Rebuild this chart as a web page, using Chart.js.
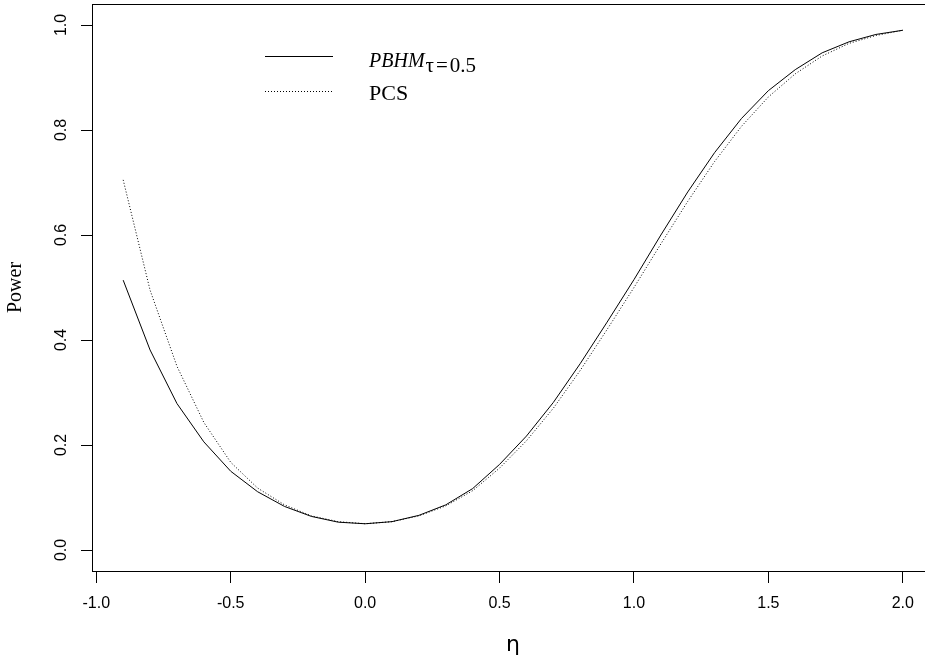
<!DOCTYPE html>
<html>
<head>
<meta charset="utf-8">
<script src="https://cdn.jsdelivr.net/npm/chart.js@4/dist/chart.umd.min.js"></script>
<style>
  html, body { margin: 0; padding: 0; background: #fff; overflow: hidden; }
  #wrap { width: 945px; height: 662px; }
</style>
</head>
<body>
<div id="wrap"><canvas id="powerChart" width="945" height="662"></canvas></div>
<script>
// effect size grid and power curves
const eta = [-0.9, -0.8, -0.7, -0.6, -0.5, -0.4, -0.3, -0.2, -0.1, 0.0,
             0.1, 0.2, 0.3, 0.4, 0.5, 0.6, 0.7, 0.8, 0.9, 1.0,
             1.1, 1.2, 1.3, 1.4, 1.5, 1.6, 1.7, 1.8, 1.9, 2.0];
const powerPBHM = [0.514, 0.381, 0.279, 0.206, 0.150, 0.111, 0.083, 0.064, 0.053, 0.050,
                   0.054, 0.066, 0.086, 0.117, 0.163, 0.217, 0.281, 0.355, 0.434, 0.515,
                   0.600, 0.682, 0.757, 0.822, 0.875, 0.915, 0.947, 0.968, 0.982, 0.990];
const powerPCS = [0.705, 0.495, 0.350, 0.243, 0.167, 0.118, 0.086, 0.065, 0.054, 0.050,
                  0.054, 0.065, 0.084, 0.113, 0.156, 0.208, 0.270, 0.342, 0.420, 0.500,
                  0.583, 0.664, 0.740, 0.807, 0.863, 0.907, 0.941, 0.965, 0.980, 0.990];
const xTicks = [-1.0, -0.5, 0.0, 0.5, 1.0, 1.5, 2.0];
const yTicks = [0.0, 0.2, 0.4, 0.6, 0.8, 1.0];

const toPoints = ys => eta.map((x, i) => ({ x: x, y: ys[i] }));

// box around the plot region, rotated y labels, legend
const rPlotExtras = {
  id: "rPlotExtras",
  afterDraw(chart) {
    const ctx = chart.ctx;
    const a = chart.chartArea;
    const ys = chart.scales.y;
    ctx.save();
    ctx.strokeStyle = "#000";
    ctx.lineWidth = 1;
    ctx.strokeRect(Math.round(a.left) + 0.5, Math.round(a.top) + 0.5,
                   Math.round(a.right - a.left), Math.round(a.bottom - a.top));

    ctx.fillStyle = "#000";
    ctx.font = "16px 'Liberation Sans', Arial, sans-serif";
    ctx.textAlign = "center";
    ctx.textBaseline = "middle";
    yTicks.forEach(v => {
      ctx.save();
      ctx.translate(62, ys.getPixelForValue(v));
      ctx.rotate(-Math.PI / 2);
      ctx.fillText(v.toFixed(1), 0, 0);
      ctx.restore();
    });

    // legend
    ctx.beginPath();
    ctx.moveTo(265, 56.5);
    ctx.lineTo(333, 56.5);
    ctx.stroke();
    ctx.setLineDash([1, 2]);
    ctx.beginPath();
    ctx.moveTo(265, 91.5);
    ctx.lineTo(333, 91.5);
    ctx.stroke();
    ctx.setLineDash([]);

    ctx.textAlign = "left";
    ctx.textBaseline = "alphabetic";
    ctx.font = "italic 20px 'Liberation Serif', 'Times New Roman', serif";
    ctx.fillText("PBHM", 369, 67);
    // subscript tau = 0.5
    let sx = 369 + ctx.measureText("PBHM").width + 1;
    ctx.font = "21px 'Liberation Serif', 'Times New Roman', serif";
    ["τ", "=", "0.5"].forEach((part, i) => {
      ctx.fillText(part, sx, 72);
      sx += ctx.measureText(part).width + (i < 2 ? 2 : 0);
    });
    ctx.font = "22px 'Liberation Serif', 'Times New Roman', serif";
    ctx.fillText("PCS", 369, 100);
    ctx.restore();
  }
};

const ctx = document.getElementById("powerChart").getContext("2d");

new Chart(ctx, {
  type: "line",
  data: {
    datasets: [
      {
        label: "PBHM",
        data: toPoints(powerPBHM),
        borderColor: "#000",
        borderWidth: 1,
        pointRadius: 0,
        tension: 0,
        fill: false
      },
      {
        label: "PCS",
        data: toPoints(powerPCS),
        borderColor: "#000",
        borderWidth: 1,
        borderDash: [1, 2],
        pointRadius: 0,
        tension: 0,
        fill: false
      }
    ]
  },
  options: {
    responsive: false,
    animation: false,
    devicePixelRatio: 1,
    layout: { padding: { top: 4, right: 11, bottom: 0, left: 0 } },
    plugins: {
      legend: { display: false },
      tooltip: { enabled: false }
    },
    scales: {
      x: {
        type: "linear",
        min: -1.016,
        max: 2.116,
        afterBuildTicks: s => { s.ticks = xTicks.map(v => ({ value: v })); },
        afterFit: s => { s.height = 91; },
        ticks: {
          color: "#000",
          font: { family: "'Liberation Sans', Arial, sans-serif", size: 16 },
          padding: 11,
          maxRotation: 0,
          callback: v => Number(v).toFixed(1)
        },
        grid: {
          drawOnChartArea: false,
          drawTicks: true,
          tickLength: 12,
          tickColor: "#000",
          lineWidth: 1
        },
        border: { display: true, color: "#000", width: 1 },
        title: {
          display: true,
          text: "η",
          color: "#000",
          font: { family: "'DejaVu Sans', sans-serif", size: 22 },
          padding: { top: 0, bottom: 4 }
        }
      },
      y: {
        type: "linear",
        min: -0.04,
        max: 1.04,
        afterBuildTicks: s => { s.ticks = yTicks.map(v => ({ value: v })); },
        afterFit: s => { s.width = 92; },
        ticks: { display: false },
        grid: {
          drawOnChartArea: false,
          drawTicks: true,
          tickLength: 11,
          tickColor: "#000",
          lineWidth: 1
        },
        border: { display: true, color: "#000", width: 1 },
        title: {
          display: true,
          text: "Power",
          color: "#000",
          font: { family: "'Liberation Serif', 'Times New Roman', serif", size: 20 },
          padding: { top: 4, bottom: 0 }
        }
      }
    }
  },
  plugins: [rPlotExtras]
});
</script>
</body>
</html>
